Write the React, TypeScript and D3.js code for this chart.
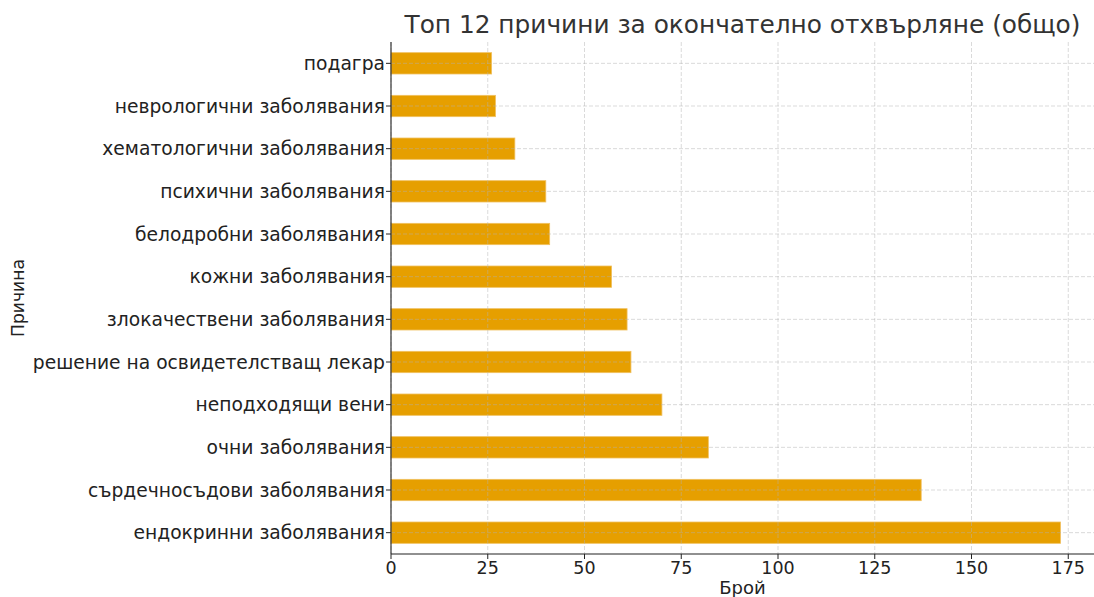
import React from "react";
import * as d3 from "d3";

const categories = [
  "подагра",
  "неврологични заболявания",
  "хематологични заболявания",
  "психични заболявания",
  "белодробни заболявания",
  "кожни заболявания",
  "злокачествени заболявания",
  "решение на освидетелстващ лекар",
  "неподходящи вени",
  "очни заболявания",
  "сърдечносъдови заболявания",
  "ендокринни заболявания",
];
const counts = [26, 27, 32, 40, 41, 57, 61, 62, 70, 82, 137, 173];
const xTicks = [0, 25, 50, 75, 100, 125, 150, 175];
const title = "Топ 12 причини за окончателно отхвърляне (общо)";
const xLabel = "Брой";
const yLabel = "Причина";

export default function App() {
  const W = 1094, H = 597;
  const left = 391, right = 1094, top = 42, bottom = 554;
  const font = "DejaVu Sans, sans-serif";
  const x = d3.scaleLinear().domain([0, d3.max(counts)! * 1.05]).range([left, right]);
  const y = d3.scaleBand<string>().domain(categories).range([top, bottom]).paddingInner(0.5).paddingOuter(0.25);
  const bw = y.bandwidth();
  return (
    <svg width={W} height={H} style={{ position: "absolute", left: 0, top: 0, background: "#fff" }}>
      <text x={(left + right) / 2} y={33} textAnchor="middle" fontFamily={font} fontSize={24.8} fill="#333">{title}</text>
      {categories.map((c, i) => (
        <rect key={c} x={x(0)} y={y(c)!} width={x(counts[i]) - x(0)} height={bw} fill="#E69F00" stroke="#f0c060" strokeWidth={0.8} />
      ))}
      {xTicks.map((t) => (
        <line key={"gx" + t} x1={x(t)} x2={x(t)} y1={top} y2={bottom} stroke="#b0b0b0" strokeOpacity={0.6} strokeDasharray="4,2" strokeWidth={0.8} />
      ))}
      {categories.map((c) => (
        <line key={"gy" + c} x1={left} x2={right} y1={y(c)! + bw / 2} y2={y(c)! + bw / 2} stroke="#b0b0b0" strokeOpacity={0.6} strokeDasharray="4,2" strokeWidth={0.8} />
      ))}
      <line x1={left} x2={left} y1={top} y2={bottom} stroke="#222" strokeWidth={1.1} />
      <line x1={left} x2={right} y1={bottom} y2={bottom} stroke="#222" strokeWidth={1.1} />
      {categories.map((c) => (
        <g key={"yt" + c}>
          <line x1={left - 5} x2={left} y1={y(c)! + bw / 2} y2={y(c)! + bw / 2} stroke="#222" strokeWidth={1} />
          <text x={left - 6} y={y(c)! + bw / 2} dy="0.35em" textAnchor="end" fontFamily={font} fontSize={18.7} fill="#222">{c}</text>
        </g>
      ))}
      {xTicks.map((t) => (
        <g key={"xt" + t}>
          <line x1={x(t)} x2={x(t)} y1={bottom} y2={bottom + 5} stroke="#222" strokeWidth={1} />
          <text x={x(t)} y={574} textAnchor="middle" fontFamily={font} fontSize={17.5} fill="#222">{t}</text>
        </g>
      ))}
      <text x={(left + right) / 2} y={594} textAnchor="middle" fontFamily={font} fontSize={18} fill="#222">{xLabel}</text>
      <text transform={`translate(24,${(top + bottom) / 2}) rotate(-90)`} textAnchor="middle" fontFamily={font} fontSize={17.2} fill="#222">{yLabel}</text>
    </svg>
  );
}
